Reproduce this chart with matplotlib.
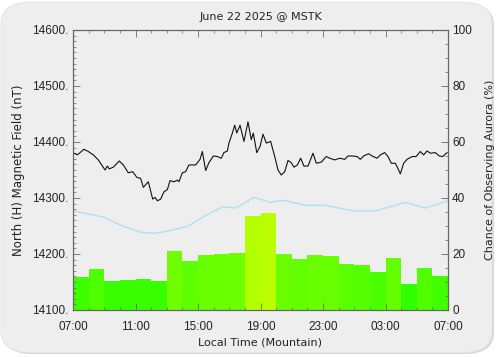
import matplotlib
matplotlib.use("Agg")
import matplotlib.pyplot as plt
import numpy as np
from matplotlib.patches import FancyBboxPatch
from matplotlib.ticker import MultipleLocator, FixedLocator

plt.rcParams['font.family'] = ['Liberation Sans', 'DejaVu Sans']

title = "June 22 2025 @ MSTK"
xlabel = "Local Time (Mountain)"
ylabel_left = "North (H) Magnetic Field (nT)"
ylabel_right = "Chance of Observing Aurora (%)"

# hours since 07:00 local
xtick_hours = [0, 4, 8, 12, 16, 20, 24]
xtick_labels = ["07:00", "11:00", "15:00", "19:00", "23:00", "03:00", "07:00"]

# hourly aurora chance (%)
bar_start_hours = list(range(24))
aurora_chance = [11.7, 14.5, 10.5, 10.6, 11.0, 10.4, 21.0, 17.6, 19.6, 20.0, 20.2, 33.6,
                 34.8, 20.0, 18.2, 19.8, 19.3, 16.4, 16.2, 13.7, 18.6, 9.3, 15.0, 12.1]

# magnetic field (nT)
field_hours = [0.06, 0.28, 0.45, 0.70, 0.98, 1.30, 1.62, 2.05, 2.20, 2.32, 2.58, 2.96, 3.22,
               3.54, 3.82, 4.08, 4.33, 4.50, 4.82, 5.10, 5.25, 5.40, 5.61, 5.82, 6.04, 6.21,
               6.46, 6.68, 6.78, 7.00, 7.21, 7.42, 7.85, 8.13, 8.28, 8.49, 8.70, 8.98, 9.24,
               9.49, 9.66, 9.88, 9.98, 10.20, 10.35, 10.48, 10.69, 10.94, 11.20, 11.41, 11.54,
               11.76, 11.97, 12.16, 12.37, 12.65, 12.91, 13.12, 13.33, 13.55, 13.76, 13.97,
               14.14, 14.36, 14.57, 14.78, 15.04, 15.36, 15.57, 15.89, 16.21, 16.43, 16.75,
               17.07, 17.39, 17.60, 17.86, 18.18, 18.39, 18.60, 18.92, 19.14, 19.46, 19.67,
               19.95, 20.16, 20.37, 20.63, 20.84, 20.95, 21.16, 21.38, 21.70, 21.95, 22.23,
               22.44, 22.66, 22.87, 23.19, 23.44, 23.66, 23.94]
field_values = [14380, 14377, 14381, 14387, 14383, 14377, 14368, 14350, 14357, 14352, 14355,
                14366, 14359, 14345, 14347, 14337, 14335, 14319, 14329, 14298, 14301, 14295,
                14298, 14311, 14315, 14331, 14329, 14332, 14329, 14345, 14347, 14359, 14359,
                14369, 14383, 14349, 14363, 14375, 14374, 14371, 14381, 14384, 14398, 14416,
                14430, 14416, 14430, 14401, 14436, 14404, 14416, 14381, 14392, 14414, 14398,
                14401, 14374, 14350, 14341, 14347, 14367, 14363, 14355, 14359, 14371, 14357,
                14357, 14380, 14362, 14364, 14374, 14371, 14368, 14371, 14369, 14375, 14375,
                14374, 14369, 14375, 14379, 14375, 14371, 14377, 14381, 14374, 14362, 14362,
                14350, 14343, 14362, 14369, 14374, 14374, 14383, 14377, 14384, 14380, 14381,
                14375, 14374, 14381]

# quiet-day baseline (nT)
base_hours = [0, 1.09, 1.94, 3.01, 4.29, 5.14, 5.95, 7.31, 8.38, 9.56, 10.41, 11.58, 11.97,
              12.59, 13.44, 14.83, 16.11, 17.39, 17.98, 19.35, 21.27, 22.55, 24.0]
base_values = [14277, 14271, 14266, 14252, 14239, 14237, 14240, 14249, 14267, 14284, 14282,
               14301, 14298, 14292, 14296, 14287, 14287, 14280, 14277, 14277, 14292, 14282,
               14295]

BG = '#eeeeee'
SP = '#666666'
TXT = '#222222'
LBL_FONT = ['DejaVu Sans']

fig = plt.figure(figsize=(5.0, 3.57), dpi=100)
fig.patch.set_facecolor('white')
fig.patches.append(FancyBboxPatch((0.006, 0.008), 0.982, 0.982,
                                  boxstyle="round,pad=0,rounding_size=0.06",
                                  transform=fig.transFigure, facecolor='#d8d8d8',
                                  edgecolor='none', zorder=-11))
fig.patches.append(FancyBboxPatch((0.002, 0.012), 0.982, 0.982,
                                  boxstyle="round,pad=0,rounding_size=0.06",
                                  transform=fig.transFigure, facecolor=BG,
                                  edgecolor='#e2e2e2', linewidth=0.6, zorder=-10))

ax2 = fig.add_axes([0.146, 0.1317, 0.75, 0.7843])
ax = fig.add_axes([0.146, 0.1317, 0.75, 0.7843], sharex=ax2)
ax2.set_facecolor(BG)
ax.patch.set_visible(False)

colors = [(min(v / 48.0, 1.0), 1.0, 0.0) for v in aurora_chance]
ax2.bar(bar_start_hours, aurora_chance, width=1.0, align='edge', color=colors,
        edgecolor='none', linewidth=0)
ax2.set_ylim(0, 100)
ax2.yaxis.set_label_position('right')
ax2.yaxis.tick_right()
ax2.yaxis.set_major_locator(MultipleLocator(20))
ax2.yaxis.set_minor_locator(MultipleLocator(5))
ax2.set_ylabel(ylabel_right, fontsize=8, labelpad=9, color=TXT, family=LBL_FONT)

ax.plot(base_hours, base_values, color='#a8dff2', linewidth=0.9)
ax.plot(field_hours, field_values, color='#111111', linewidth=0.8)
ax.set_ylim(14100, 14600)
ax.set_xlim(0, 24)
ytick_vals = [14100, 14200, 14300, 14400, 14500, 14600]
ax.yaxis.set_major_locator(FixedLocator(ytick_vals))
ax.set_yticklabels([f"{v}." for v in ytick_vals])
ax.yaxis.set_minor_locator(MultipleLocator(10))
ax.set_xticks(xtick_hours)
ax.set_xticklabels(xtick_labels)
ax.xaxis.set_minor_locator(MultipleLocator(1))
ax.set_ylabel(ylabel_left, fontsize=8.5, labelpad=5, color=TXT, family=LBL_FONT)
ax.set_xlabel(xlabel, fontsize=8, labelpad=3, color=TXT, family=LBL_FONT)
ax.set_title(title, fontsize=8, pad=7, color=TXT, family=LBL_FONT)

for a in (ax, ax2):
    for s in a.spines.values():
        s.set_color(SP)
        s.set_linewidth(0.8)

ax.tick_params(axis='both', which='major', direction='in', length=5, width=0.6,
               color=SP, labelsize=8.5, labelcolor=TXT, top=True, right=False)
ax.tick_params(axis='both', which='minor', direction='in', length=2.5, width=0.5,
               color=SP, top=True, right=False)
ax.tick_params(axis='x', which='major', pad=8)
ax2.tick_params(axis='y', which='major', direction='in', length=5, width=0.6,
                color=SP, labelsize=8.5, labelcolor=TXT, pad=3)
ax2.tick_params(axis='y', which='minor', direction='in', length=2.5, width=0.5, color=SP)
ax2.tick_params(axis='x', which='both', bottom=False, labelbottom=False)

fig.savefig("out.png", dpi=100)
